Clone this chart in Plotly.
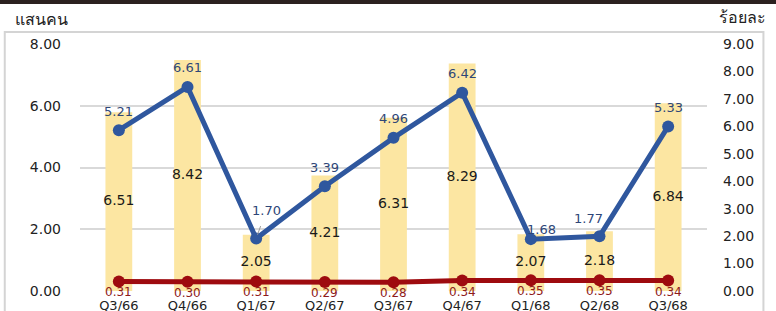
import plotly.graph_objects as go

quarters = ["Q3/66", "Q4/66", "Q1/67", "Q2/67", "Q3/67", "Q4/67", "Q1/68", "Q2/68", "Q3/68"]
bar_values = [6.51, 8.42, 2.05, 4.21, 6.31, 8.29, 2.07, 2.18, 6.84]      # right axis (ร้อยละ)
blue_values = [5.21, 6.61, 1.70, 3.39, 4.96, 6.42, 1.68, 1.77, 5.33]     # left axis (แสนคน)
red_values = [0.31, 0.30, 0.31, 0.29, 0.28, 0.34, 0.35, 0.35, 0.34]      # left axis
left_ticks = [0, 2, 4, 6, 8]
right_ticks = [0, 1, 2, 3, 4, 5, 6, 7, 8, 9]

FONT = "DejaVu Sans"
BLUE = "#2F579E"
RED = "#9E0B0F"
BAR = "#FCE6A2"

fig = go.Figure()
# bars on base axis (right side), lines on overlaying axis (left side) so lines draw on top
fig.add_trace(go.Bar(x=quarters, y=bar_values, yaxis="y", marker_color=BAR,
                     marker_line_width=0, width=0.39, showlegend=False, hoverinfo="skip"))
fig.add_trace(go.Scatter(x=quarters, y=[v / 2 for v in bar_values], yaxis="y", mode="text",
                         text=[f"{v:.2f}" for v in bar_values],
                         textfont=dict(family=FONT, size=14, color="#1a1a1a"),
                         showlegend=False, hoverinfo="skip"))
fig.add_trace(go.Scatter(x=quarters, y=blue_values, yaxis="y2", mode="lines+markers",
                         line=dict(color=BLUE, width=5), marker=dict(size=12, color=BLUE),
                         showlegend=False))
fig.add_trace(go.Scatter(x=quarters, y=red_values, yaxis="y2", mode="lines+markers",
                         line=dict(color=RED, width=5), marker=dict(size=12, color=RED),
                         showlegend=False))

annotations = []
blue_off = {2: (10, -28, True), 6: (11, -10, False), 7: (-11, -18, True)}
for i, (q, v) in enumerate(zip(quarters, blue_values)):
    dx, dy, arrow = blue_off.get(i, (0, -19, False))
    if arrow:
        annotations.append(dict(x=q, y=v, xref="x", yref="y2", text=f"{v:.2f}", showarrow=True,
                                ax=dx, ay=dy, arrowhead=0, arrowwidth=1, arrowcolor="#999999",
                                standoff=4, startstandoff=7,
                                font=dict(family=FONT, size=13, color="#2E4678")))
    else:
        annotations.append(dict(x=q, y=v, xref="x", yref="y2", text=f"{v:.2f}", showarrow=False,
                                xshift=dx, yshift=-dy,
                                font=dict(family=FONT, size=13, color="#2E4678")))
for q, v in zip(quarters, red_values):
    annotations.append(dict(x=q, y=v, xref="x", yref="y2", text=f"{v:.2f}", showarrow=False,
                            yshift=-11, font=dict(family=FONT, size=12, color="#8E1A1A")))

annotations.append(dict(x=-0.1074, y=1.10, xref="paper", yref="paper", text="แสนคน", showarrow=False,
                        xanchor="left", yanchor="middle", font=dict(family="Noto Sans", size=16, color="#222")))
annotations.append(dict(x=1.097, y=1.108, xref="paper", yref="paper", text="ร้อยละ", showarrow=False,
                        xanchor="right", yanchor="middle", font=dict(family="Noto Sans", size=16, color="#222")))

shapes = [
    dict(type="rect", xref="paper", yref="paper", x0=-0.12, x1=1.09, y0=-0.2, y1=1.049,
         line=dict(color="#D4D4D4", width=2), fillcolor="rgba(0,0,0,0)", layer="below"),
    dict(type="rect", xref="paper", yref="paper", x0=-0.2, x1=1.2, y0=1.162, y1=1.25,
         line=dict(width=0), fillcolor="#2B211F"),
]

fig.update_layout(
    width=776, height=311,
    margin=dict(l=80, r=69, t=44, b=20, autoexpand=False),
    paper_bgcolor="white", plot_bgcolor="white",
    font=dict(family=FONT, size=13, color="#333"),
    xaxis=dict(type="category", showgrid=False, showline=False, ticks="", automargin=False,
               ticklabelstandoff=5, tickfont=dict(family=FONT, size=13, color="#222")),
    yaxis=dict(range=[0, 9], tickvals=right_ticks, ticktext=[f"{t:.2f}" for t in right_ticks],
               side="right", showgrid=False, zeroline=False, automargin=False,
               ticklabelstandoff=15, tickfont=dict(family=FONT, size=14, color="#222")),
    yaxis2=dict(range=[0, 8], tickvals=left_ticks, ticktext=[f"{t:.2f}" for t in left_ticks],
                overlaying="y", side="left", showgrid=True, gridcolor="#D9D9D9", gridwidth=2,
                zeroline=False, automargin=False,
                ticklabelstandoff=18, tickfont=dict(family=FONT, size=14, color="#222")),
    annotations=annotations,
    shapes=shapes,
)

fig.write_html("out.html", config={"displayModeBar": False},
               post_script="document.body.style.margin='0';document.body.style.overflow='hidden';")
